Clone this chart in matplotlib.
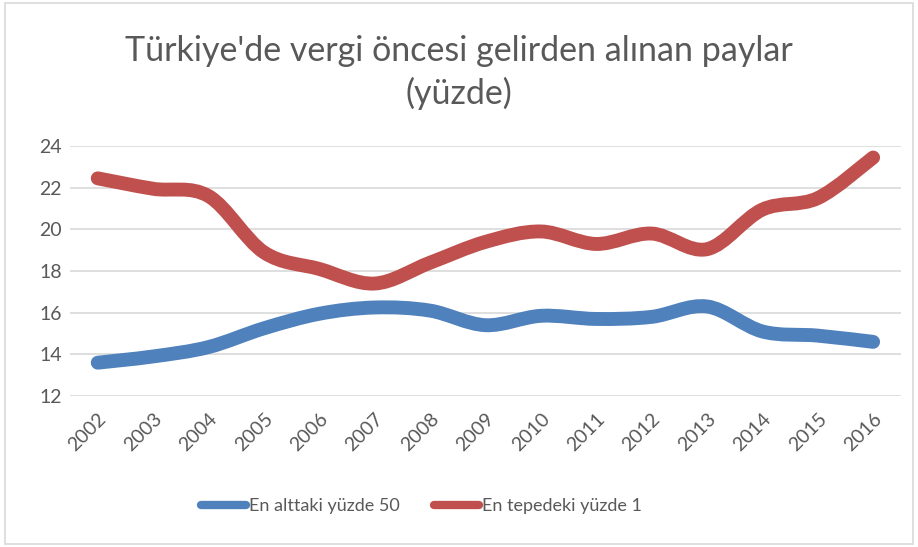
import matplotlib.pyplot as plt
from matplotlib.path import Path
from matplotlib.patches import PathPatch, Rectangle
from matplotlib.lines import Line2D
import numpy as np

plt.rcParams['font.family'] = ['Lato', 'DejaVu Sans']

# veriler
years = ['2002', '2003', '2004', '2005', '2006', '2007', '2008', '2009',
         '2010', '2011', '2012', '2013', '2014', '2015', '2016']
alt50 = [13.6, 13.9, 14.35, 15.25, 15.95, 16.25, 16.1, 15.4,
         15.85, 15.7, 15.8, 16.3, 15.1, 14.9, 14.6]
tepe1 = [22.45, 21.95, 21.6, 18.9, 18.1, 17.4, 18.4, 19.4,
         19.9, 19.3, 19.8, 19.05, 20.95, 21.5, 23.45]
series_names = ['En alttaki yüzde 50', 'En tepedeki yüzde 1']
colors = ['#4F81BD', '#C0504D']
yticks = [12, 14, 16, 18, 20, 22, 24]

txt = '#595959'


def smooth_path(xs, ys):
    # excel tarzi yumusak cizgi (bezier)
    pts = np.column_stack([xs, ys]).astype(float)
    n = len(pts)
    verts = [pts[0]]
    codes = [Path.MOVETO]
    for i in range(n - 1):
        p0 = pts[i - 1] if i > 0 else pts[i]
        p1 = pts[i]
        p2 = pts[i + 1]
        p3 = pts[i + 2] if i + 2 < n else pts[i + 1]
        c1 = p1 + (p2 - p0) / 6
        c2 = p2 - (p3 - p1) / 6
        verts += [c1, c2, p2]
        codes += [Path.CURVE4] * 3
    return Path(verts, codes)


fig = plt.figure(figsize=(9.18, 5.47), dpi=100)
ax = fig.add_axes([0.0763, 0.276, 0.905, 0.457])

x = np.arange(len(years))
for vals, c in zip([alt50, tepe1], colors):
    patch = PathPatch(smooth_path(x, vals), fill=False, edgecolor=c,
                      linewidth=10, capstyle='round', joinstyle='round', zorder=3)
    ax.add_patch(patch)

ax.set_xlim(-0.5, len(years) - 0.5)
ax.set_ylim(12, 24)
ax.set_yticks(yticks)
ax.set_xticks(x)
ax.set_xticklabels(years, rotation=45, ha='right', va='top', rotation_mode='anchor')
ax.tick_params(axis='both', length=0, labelsize=14, colors=txt)
ax.tick_params(axis='x', pad=10)
ax.tick_params(axis='y', pad=22)
for lab in ax.get_yticklabels():
    lab.set_horizontalalignment('left')
ax.grid(axis='y', color='#d9d9d9', linewidth=1.2)
ax.set_axisbelow(True)
for s in ax.spines.values():
    s.set_visible(False)

fig.text(0.5, 0.867, "Türkiye'de vergi öncesi gelirden alınan paylar\n(yüzde)",
         ha='center', va='center', fontsize=24.5, color=txt, linespacing=1.35)

handles = [Line2D([0], [0], color=c, linewidth=6, solid_capstyle='round') for c in colors]
fig.legend(handles, series_names, loc='center', bbox_to_anchor=(0.459, 0.075), ncol=2,
           frameon=False, fontsize=13, labelcolor=txt, handlelength=2.5,
           handletextpad=0.15, columnspacing=1.9)

fig.add_artist(Rectangle((0.005, 0.005), 0.99, 0.99, transform=fig.transFigure,
                         fill=False, edgecolor='#d9d9d9', linewidth=1.2))

fig.savefig('out.png', dpi=100)
